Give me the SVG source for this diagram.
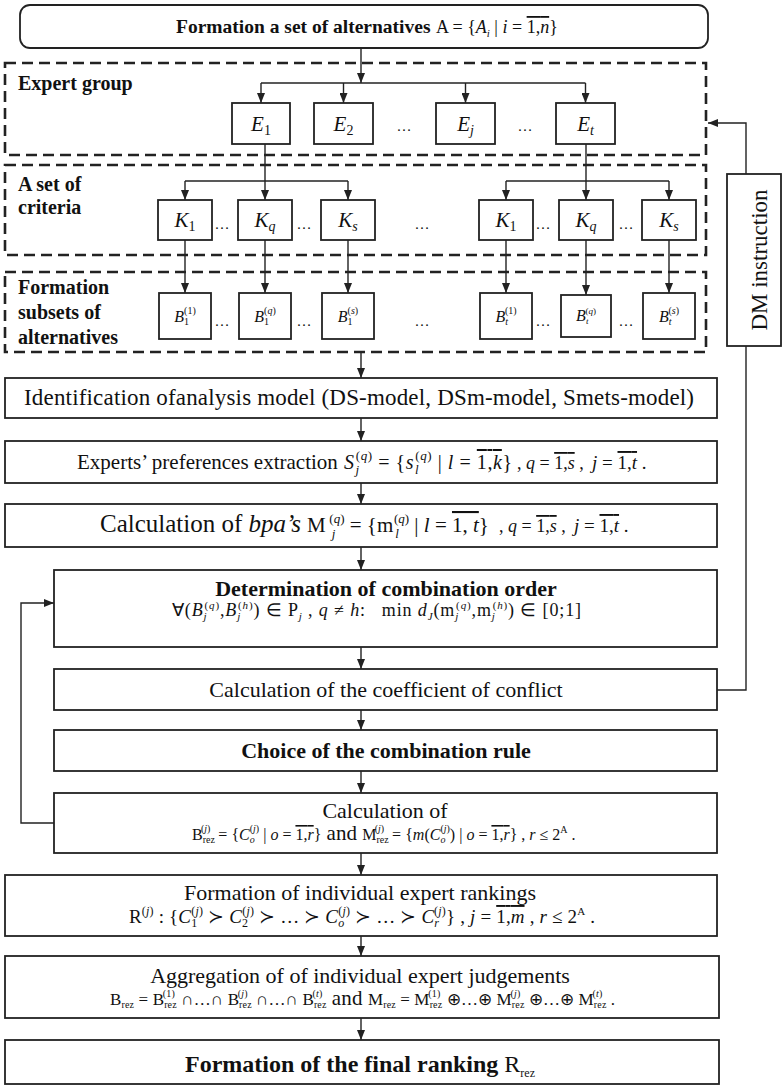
<svg xmlns="http://www.w3.org/2000/svg" width="782" height="1086" viewBox="0 0 782 1086">
<defs>
<style>
.box{fill:#fff;stroke:#222;stroke-width:1.8}
.dash{fill:none;stroke:#222;stroke-width:2.6;stroke-dasharray:11 6}
.c{fill:none;stroke:#222;stroke-width:1.4}
.a{marker-end:url(#ah)}
text{font-family:"Liberation Serif","Times New Roman",serif;fill:#111}
.b{font-weight:bold}
.i{font-style:italic}
.n{font-style:normal}
.o{text-decoration:overline}
.mid{text-anchor:middle}
.lab{font-size:20px;font-weight:bold}
.el{font-size:21px;font-style:italic;text-anchor:middle}
.bl{font-size:16px;font-style:italic;text-anchor:middle}
.dots{font-size:15px;text-anchor:middle}
.t{font-size:22px}
</style>
<marker id="ah" viewBox="0 0 10 8" refX="10" refY="4" markerWidth="10" markerHeight="8" markerUnits="userSpaceOnUse" orient="auto"><path d="M0,0 L10,4 L0,8 z" fill="#222"/></marker>
</defs>
<rect width="782" height="1086" fill="#fff"/>

<g id="connectors">
<line class="c a" x1="361" y1="48" x2="361" y2="83"/>
<line class="c" x1="261" y1="83" x2="585.5" y2="83"/>
<line class="c a" x1="261" y1="83" x2="261" y2="103"/>
<line class="c a" x1="343.5" y1="83" x2="343.5" y2="103"/>
<line class="c a" x1="465.5" y1="83" x2="465.5" y2="103"/>
<line class="c a" x1="585.5" y1="83" x2="585.5" y2="103"/>
<line class="c" x1="265" y1="144" x2="265" y2="181"/>
<line class="c" x1="185" y1="181" x2="348" y2="181"/>
<line class="c a" x1="185" y1="181" x2="185" y2="200"/>
<line class="c a" x1="265" y1="181" x2="265" y2="200"/>
<line class="c a" x1="348" y1="181" x2="348" y2="200"/>
<line class="c" x1="586" y1="144" x2="586" y2="181"/>
<line class="c" x1="506" y1="181" x2="669" y2="181"/>
<line class="c a" x1="506" y1="181" x2="506" y2="200"/>
<line class="c a" x1="586" y1="181" x2="586" y2="200"/>
<line class="c a" x1="669" y1="181" x2="669" y2="200"/>
<line class="c a" x1="185" y1="240" x2="185" y2="293"/>
<line class="c a" x1="265" y1="240" x2="265" y2="293"/>
<line class="c a" x1="348" y1="240" x2="348" y2="293"/>
<line class="c a" x1="506" y1="240" x2="506" y2="293"/>
<line class="c a" x1="586" y1="240" x2="586" y2="295"/>
<line class="c a" x1="669" y1="240" x2="669" y2="293"/>
<line class="c a" x1="361" y1="352" x2="361" y2="378"/>
<line class="c a" x1="361" y1="418" x2="361" y2="441"/>
<line class="c a" x1="361" y1="483" x2="361" y2="504"/>
<line class="c a" x1="361" y1="547" x2="361" y2="570"/>
<line class="c a" x1="361" y1="647" x2="361" y2="669"/>
<line class="c a" x1="361" y1="710" x2="361" y2="730"/>
<line class="c a" x1="361" y1="771" x2="361" y2="793"/>
<line class="c a" x1="361" y1="853" x2="361" y2="875"/>
<line class="c a" x1="361" y1="936" x2="361" y2="956"/>
<line class="c a" x1="361" y1="1018" x2="361" y2="1040"/>
<path class="c a" d="M746,174 V123 H708"/>
<path class="c" d="M717,690 H746 V346"/>
<path class="c a" d="M54,823 H21 V603 H54"/>
</g>

<g id="n-top">
<rect class="box" x="20" y="5" width="688" height="43" rx="10"/>
<text x="176" y="33" class="b" font-size="19.5">Formation a set of alternatives</text>
<text x="436" y="33" font-size="18">A = {<tspan class="i">A</tspan><tspan class="i" font-size="11" dy="4">i</tspan><tspan dy="-4"> | <tspan class="i">i</tspan> = <tspan class="o">1,<tspan class="i">n</tspan></tspan>}</tspan></text>
</g>

<g id="g-expert">
<rect class="dash" x="5" y="63" width="701" height="92"/>
<text x="18" y="90" class="lab">Expert group</text>
<text x="404" y="131" class="dots">…</text>
<text x="525" y="131" class="dots">…</text>
</g>
<g id="n-E1"><rect class="box" x="232" y="103" width="58" height="41"/><text x="261" y="131" class="el">E<tspan class="n" font-size="14" dy="4">1</tspan></text></g>
<g id="n-E2"><rect class="box" x="314" y="103" width="59" height="41"/><text x="343.5" y="131" class="el">E<tspan class="n" font-size="14" dy="4">2</tspan></text></g>
<g id="n-Ej"><rect class="box" x="436" y="103" width="59" height="41"/><text x="465.5" y="131" class="el">E<tspan font-size="14" dy="4">j</tspan></text></g>
<g id="n-Et"><rect class="box" x="556" y="103" width="59" height="41"/><text x="585.5" y="131" class="el">E<tspan font-size="14" dy="4">t</tspan></text></g>

<g id="g-criteria">
<rect class="dash" x="5" y="165" width="701" height="90"/>
<text x="18" y="191" class="lab">A set of</text>
<text x="18" y="214" class="lab">criteria</text>
<text x="222" y="229" class="dots">…</text>
<text x="304" y="229" class="dots">…</text>
<text x="422" y="229" class="dots">…</text>
<text x="543" y="229" class="dots">…</text>
<text x="626" y="229" class="dots">…</text>
</g>
<g id="n-K1a"><rect class="box" x="158" y="200" width="54" height="40"/><text x="185" y="227" class="el">K<tspan class="n" font-size="14" dy="4">1</tspan></text></g>
<g id="n-Kqa"><rect class="box" x="238" y="200" width="54" height="40"/><text x="265" y="227" class="el">K<tspan font-size="14" dy="4">q</tspan></text></g>
<g id="n-Ksa"><rect class="box" x="321" y="200" width="54" height="40"/><text x="348" y="227" class="el">K<tspan font-size="14" dy="4">s</tspan></text></g>
<g id="n-K1b"><rect class="box" x="479" y="200" width="54" height="40"/><text x="506" y="227" class="el">K<tspan class="n" font-size="14" dy="4">1</tspan></text></g>
<g id="n-Kqb"><rect class="box" x="559" y="200" width="54" height="40"/><text x="586" y="227" class="el">K<tspan font-size="14" dy="4">q</tspan></text></g>
<g id="n-Ksb"><rect class="box" x="642" y="200" width="54" height="40"/><text x="669" y="227" class="el">K<tspan font-size="14" dy="4">s</tspan></text></g>

<g id="g-subsets">
<rect class="dash" x="5" y="272" width="701" height="80"/>
<text x="18" y="294" class="lab">Formation</text>
<text x="18" y="319" class="lab">subsets of</text>
<text x="18" y="344" class="lab">alternatives</text>
<text x="222" y="326" class="dots">…</text>
<text x="304" y="326" class="dots">…</text>
<text x="422" y="326" class="dots">…</text>
<text x="543" y="326" class="dots">…</text>
<text x="626" y="326" class="dots">…</text>
</g>
<g id="n-B11"><rect class="box" x="159" y="293" width="52" height="46"/><text x="185" y="322" class="bl">B<tspan class="n" font-size="10" dy="3">1</tspan><tspan class="n" font-size="10" dx="-5" dy="-11">(1)</tspan></text></g>
<g id="n-B1q"><rect class="box" x="239" y="293" width="52" height="46"/><text x="265" y="322" class="bl">B<tspan class="n" font-size="10" dy="3">1</tspan><tspan class="n" font-size="10" dx="-5" dy="-11">(<tspan class="i">q</tspan>)</tspan></text></g>
<g id="n-B1s"><rect class="box" x="322" y="293" width="52" height="46"/><text x="348" y="322" class="bl">B<tspan class="n" font-size="10" dy="3">1</tspan><tspan class="n" font-size="10" dx="-5" dy="-11">(<tspan class="i">s</tspan>)</tspan></text></g>
<g id="n-Bt1"><rect class="box" x="480" y="293" width="52" height="46"/><text x="506" y="322" class="bl">B<tspan font-size="10" dy="3">t</tspan><tspan class="n" font-size="10" dx="-3" dy="-11">(1)</tspan></text></g>
<g id="n-Btq"><rect class="box" x="561" y="295" width="50" height="42"/><text x="586" y="321" class="bl" font-size="14">B<tspan font-size="9" dy="3">t</tspan><tspan class="n" font-size="9" dx="-3" dy="-10">(<tspan class="i">q</tspan>)</tspan></text></g>
<g id="n-Bts"><rect class="box" x="643" y="293" width="52" height="46"/><text x="669" y="322" class="bl">B<tspan font-size="10" dy="3">t</tspan><tspan class="n" font-size="10" dx="-3" dy="-11">(<tspan class="i">s</tspan>)</tspan></text></g>

<g id="n-dm">
<rect class="box" x="727" y="174" width="54" height="172"/>
<text transform="translate(767,260) rotate(-90)" class="mid" font-size="23">DM instruction</text>
</g>

<g id="n-ident">
<rect class="box" x="5" y="378" width="712" height="40"/>
<text x="24" y="405" font-size="23" textLength="670">Identification ofanalysis model (DS-model, DSm-model, Smets-model)</text>
</g>

<g id="n-experts">
<rect class="box" x="5" y="441" width="712" height="42"/>
<text x="77" y="469" font-size="21">Experts’ preferences extraction</text>
<text x="344" y="469" font-size="20" textLength="168"><tspan class="i">S</tspan><tspan class="i" font-size="13" dx="1" dy="5">j</tspan><tspan font-size="13" dx="-4" dy="-14">(<tspan class="i">q</tspan>)</tspan><tspan dy="9"> = {<tspan class="i">s</tspan></tspan><tspan class="i" font-size="13" dx="1" dy="5">l</tspan><tspan font-size="13" dx="-4" dy="-14">(<tspan class="i">q</tspan>)</tspan><tspan dy="9"> | <tspan class="i">l</tspan> = <tspan class="o">1,<tspan class="i">k</tspan></tspan>}</tspan></text>
<text x="517" y="469" font-size="18">, <tspan class="i">q</tspan> = <tspan class="o">1,<tspan class="i">s</tspan></tspan> ,</text>
<text x="592" y="469" font-size="19"><tspan class="i">j</tspan> = <tspan class="o">1,<tspan class="i">t</tspan></tspan> .</text>
</g>

<g id="n-bpa">
<rect class="box" x="5" y="504" width="712" height="43"/>
<text x="100" y="532" font-size="25">Calculation of <tspan class="i">bpa’s</tspan></text>
<text x="307" y="532" font-size="21">M<tspan class="i" font-size="13" dx="6" dy="6">j</tspan><tspan font-size="13" dx="-6" dy="-15">(<tspan class="i">q</tspan>)</tspan><tspan dy="9"> = {m</tspan><tspan class="i" font-size="13" dx="2" dy="6">l</tspan><tspan font-size="13" dx="-5" dy="-15">(<tspan class="i">q</tspan>)</tspan><tspan dy="9"> | <tspan class="i">l</tspan> = <tspan class="o">1, <tspan class="i">t</tspan></tspan>}</tspan></text>
<text x="499" y="532" font-size="18">, <tspan class="i">q</tspan> = <tspan class="o">1,<tspan class="i">s</tspan></tspan> ,</text>
<text x="574" y="532" font-size="19"><tspan class="i">j</tspan> = <tspan class="o">1,<tspan class="i">t</tspan></tspan> .</text>
</g>

<g id="n-order">
<rect class="box" x="54" y="570" width="663" height="77"/>
<text x="386" y="596" class="b mid" font-size="22">Determination of combination order</text>
<text x="172" y="616" font-size="18" textLength="409">∀(<tspan class="i">B</tspan><tspan class="i" font-size="11" dy="4">j</tspan><tspan font-size="11" dx="-3" dy="-11">(<tspan class="i">q</tspan>)</tspan><tspan dy="7">,<tspan class="i">B</tspan></tspan><tspan class="i" font-size="11" dy="4">j</tspan><tspan font-size="11" dx="-3" dy="-11">(<tspan class="i">h</tspan>)</tspan><tspan dy="7">) ∈ P</tspan><tspan class="i" font-size="11" dy="4">j</tspan><tspan dy="-4"> , <tspan class="i">q</tspan> ≠ <tspan class="i">h</tspan>:</tspan><tspan dx="16">min <tspan class="i">d</tspan></tspan><tspan class="i" font-size="11" dy="4">J</tspan><tspan dy="-4">(m</tspan><tspan class="i" font-size="11" dy="4">j</tspan><tspan font-size="11" dx="-3" dy="-11">(<tspan class="i">q</tspan>)</tspan><tspan dy="7">,m</tspan><tspan class="i" font-size="11" dy="4">j</tspan><tspan font-size="11" dx="-3" dy="-11">(<tspan class="i">h</tspan>)</tspan><tspan dy="7">) ∈ [0;1]</tspan></text>
</g>

<g id="n-conflict">
<rect class="box" x="54" y="669" width="663" height="41"/>
<text x="386" y="697" class="t mid">Calculation of the coefficient of conflict</text>
</g>

<g id="n-rule">
<rect class="box" x="54" y="730" width="663" height="41"/>
<text x="386" y="758" class="b mid" font-size="22">Choice of the combination rule</text>
</g>

<g id="n-calc">
<rect class="box" x="54" y="793" width="663" height="60"/>
<text x="385" y="818" class="t mid">Calculation of</text>
<text x="192" y="840" font-size="16">B<tspan font-size="10" dy="3">rez</tspan><tspan font-size="10" dx="-14" dy="-11">(<tspan class="i">j</tspan>)</tspan><tspan dy="8" dx="4"> = {<tspan class="i">C</tspan></tspan><tspan class="i" font-size="10" dy="3">o</tspan><tspan font-size="10" dx="-5" dy="-11">(<tspan class="i">j</tspan>)</tspan><tspan dy="8"> | <tspan class="i">o</tspan> = <tspan class="o">1,<tspan class="i">r</tspan></tspan>}</tspan><tspan font-size="21"> and </tspan>M<tspan font-size="10" dy="3">rez</tspan><tspan font-size="10" dx="-14" dy="-11">(<tspan class="i">j</tspan>)</tspan><tspan dy="8" dx="4"> = {<tspan class="i">m</tspan>(<tspan class="i">C</tspan></tspan><tspan class="i" font-size="10" dy="3">o</tspan><tspan font-size="10" dx="-5" dy="-11">(<tspan class="i">j</tspan>)</tspan><tspan dy="8">) | <tspan class="i">o</tspan> = <tspan class="o">1,<tspan class="i">r</tspan></tspan>} , <tspan class="i">r</tspan> ≤ 2</tspan><tspan font-size="10" dy="-7">A</tspan><tspan dy="7"> .</tspan></text>
</g>

<g id="n-rank">
<rect class="box" x="5" y="875" width="712" height="61"/>
<text x="360" y="900" class="t mid">Formation of individual expert rankings</text>
<text x="129" y="923" font-size="19" textLength="466">R<tspan font-size="12" dy="-8">(<tspan class="i">j</tspan>)</tspan><tspan dy="8"> : {<tspan class="i">C</tspan></tspan><tspan font-size="12" dy="4">1</tspan><tspan font-size="12" dx="-6" dy="-12">(<tspan class="i">j</tspan>)</tspan><tspan dy="8"> ≻ <tspan class="i">C</tspan></tspan><tspan font-size="12" dy="4">2</tspan><tspan font-size="12" dx="-6" dy="-12">(<tspan class="i">j</tspan>)</tspan><tspan dy="8"> ≻ … ≻ <tspan class="i">C</tspan></tspan><tspan class="i" font-size="12" dy="4">o</tspan><tspan font-size="12" dx="-6" dy="-12">(<tspan class="i">j</tspan>)</tspan><tspan dy="8"> ≻ … ≻ <tspan class="i">C</tspan></tspan><tspan class="i" font-size="12" dy="4">r</tspan><tspan font-size="12" dx="-5" dy="-12">(<tspan class="i">j</tspan>)</tspan><tspan dy="8">} , <tspan class="i">j</tspan> = <tspan class="o">1,<tspan class="i">m</tspan></tspan> , <tspan class="i">r</tspan> ≤ 2</tspan><tspan font-size="11" dy="-8">A</tspan><tspan dy="8"> .</tspan></text>
</g>

<g id="n-aggr">
<rect class="box" x="5" y="956" width="714" height="62"/>
<text x="360" y="983" class="t mid">Aggregation of of individual expert judgements</text>
<text x="110" y="1005" font-size="17" textLength="505">B<tspan font-size="10" dy="3">rez</tspan><tspan dy="-3"> = B</tspan><tspan font-size="10" dy="3">rez</tspan><tspan font-size="10" dx="-14" dy="-11">(1)</tspan><tspan dy="8" dx="2"> ∩…∩ B</tspan><tspan font-size="10" dy="3">rez</tspan><tspan font-size="10" dx="-14" dy="-11">(<tspan class="i">j</tspan>)</tspan><tspan dy="8" dx="4"> ∩…∩ B</tspan><tspan font-size="10" dy="3">rez</tspan><tspan font-size="10" dx="-14" dy="-11">(<tspan class="i">t</tspan>)</tspan><tspan dy="8" dx="4" font-size="21"> and </tspan>M<tspan font-size="10" dy="3">rez</tspan><tspan dy="-3"> = M</tspan><tspan font-size="10" dy="3">rez</tspan><tspan font-size="10" dx="-14" dy="-11">(1)</tspan><tspan dy="8" dx="2"> ⊕…⊕ M</tspan><tspan font-size="10" dy="3">rez</tspan><tspan font-size="10" dx="-14" dy="-11">(<tspan class="i">j</tspan>)</tspan><tspan dy="8" dx="4"> ⊕…⊕ M</tspan><tspan font-size="10" dy="3">rez</tspan><tspan font-size="10" dx="-14" dy="-11">(<tspan class="i">t</tspan>)</tspan><tspan dy="8" dx="4"> .</tspan></text>
</g>

<g id="n-final">
<rect class="box" x="5" y="1040" width="714" height="44"/>
<text x="185" y="1072" font-size="24"><tspan class="b">Formation of the final ranking</tspan> R<tspan font-size="12" dy="5">rez</tspan></text>
</g>
</svg>
